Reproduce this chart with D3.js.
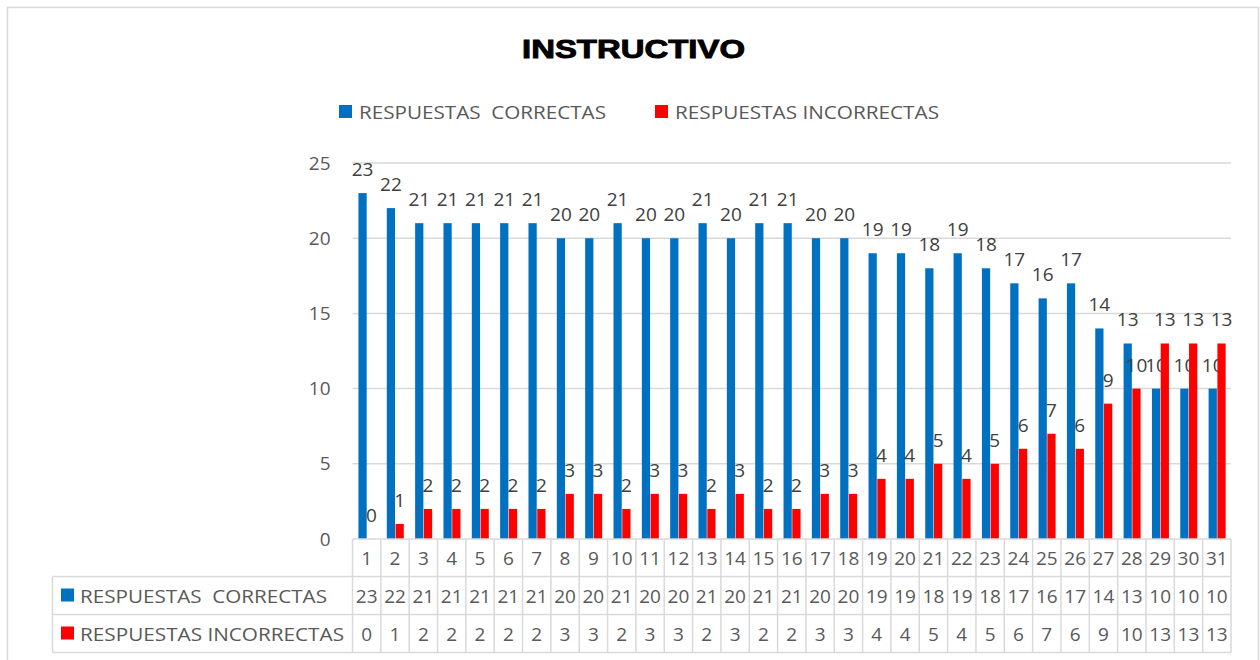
<!DOCTYPE html>
<html>
<head>
<meta charset="utf-8">
<script src="https://cdn.jsdelivr.net/npm/d3@7"></script>
<style>
body { margin: 0; background: #fff; }
text { font-family: "Open Sans", "Noto Sans", sans-serif; white-space: pre; }
</style>
</head>
<body>
<script>
var w = 1260, h = 660;

var categorias = d3.range(1, 32).map(String);
var correctas = [23,22,21,21,21,21,21,20,20,21,20,20,21,20,21,21,20,20,19,19,18,19,18,17,16,17,14,13,10,10,10];
var incorrectas = [0,1,2,2,2,2,2,3,3,2,3,3,2,3,2,2,3,3,4,4,5,4,5,6,7,6,9,10,13,13,13];
var series = ["RESPUESTAS  CORRECTAS", "RESPUESTAS INCORRECTAS"];
var colores = ["#0070C0", "#FF0000"];
var yTicks = [0, 5, 10, 15, 20, 25];

var svg = d3.select("body").append("svg")
    .attr("width", w)
    .attr("height", h);

// cadre
svg.append("rect")
    .attr("x", 7.5).attr("y", 7.5)
    .attr("width", 1251).attr("height", 670)
    .attr("fill", "#fff").attr("stroke", "#D9D9D9").attr("stroke-width", 1.5);

var left = 352.5, right = 1231, plotTop = 163, bottom = 539;

var x = d3.scaleBand().domain(categorias).range([left, right]);
var xs = d3.scaleBand().domain([0, 1])
    .range([x.bandwidth() * 0.21, x.bandwidth() * 0.81])
    .paddingInner(0.06);
var y = d3.scaleLinear().domain([0, 25]).range([bottom, plotTop]);

// titre
svg.append("text")
    .attr("x", 522).attr("y", 57.5)
    .attr("font-size", 25.5).attr("font-weight", "bold")
    .attr("fill", "#000").attr("stroke", "#000").attr("stroke-width", 0.9)
    .attr("textLength", 223).attr("lengthAdjust", "spacingAndGlyphs")
    .style("font-family", "'Liberation Sans', Arial, sans-serif")
    .text("INSTRUCTIVO");

// légende
var legX = [339, 655];
var legLen = [247, 264];
series.forEach(function(s, i) {
    svg.append("rect")
        .attr("x", legX[i]).attr("y", 105)
        .attr("width", 13).attr("height", 13)
        .attr("fill", colores[i]);
    svg.append("text")
        .attr("x", legX[i] + 20).attr("y", 118.5)
        .attr("font-size", 19).attr("fill", "#595959")
        .attr("textLength", legLen[i]).attr("lengthAdjust", "spacingAndGlyphs")
        .text(s);
});

// grille
svg.append("g").selectAll("line")
    .data(yTicks.slice(1))
    .join("line")
    .attr("x1", left).attr("x2", right)
    .attr("y1", function(d) { return y(d); })
    .attr("y2", function(d) { return y(d); })
    .attr("stroke", "#D9D9D9").attr("stroke-width", 1.5);

// axe y
var yAxis = svg.append("g")
    .attr("transform", "translate(" + (left - 22) + ",0)")
    .call(d3.axisLeft(y).tickValues(yTicks).tickSize(0).tickPadding(0));
yAxis.select(".domain").remove();
yAxis.selectAll("text")
    .attr("font-size", 19).attr("fill", "#595959")
    .style("font-family", "'Open Sans', sans-serif");

// barres
var valeurs = [correctas, incorrectas];
valeurs.forEach(function(vals, s) {
    svg.append("g").selectAll("rect")
        .data(vals)
        .join("rect")
        .attr("x", function(d, i) { return x(categorias[i]) + xs(s); })
        .attr("y", function(d) { return y(d); })
        .attr("width", xs.bandwidth())
        .attr("height", function(d) { return y(0) - y(d); })
        .attr("fill", colores[s]);
    svg.append("g").selectAll("text")
        .data(vals)
        .join("text")
        .attr("x", function(d, i) { return x(categorias[i]) + xs(s) + xs.bandwidth() / 2; })
        .attr("y", function(d) { return y(d) - 17; })
        .attr("text-anchor", "middle")
        .attr("font-size", 19).attr("fill", "#404040")
        .text(function(d) { return d; });
});

// table de données
var rowY = [bottom, 576.5, 614.5, 652.5];
var tableLeft = 52.5;
var grid = svg.append("g").attr("stroke", "#D9D9D9").attr("stroke-width", 1.5);
grid.append("line").attr("x1", left).attr("x2", right).attr("y1", bottom).attr("y2", bottom);
[1, 2, 3].forEach(function(r) {
    grid.append("line").attr("x1", tableLeft).attr("x2", right)
        .attr("y1", rowY[r]).attr("y2", rowY[r]);
});
grid.append("line").attr("x1", tableLeft).attr("x2", tableLeft)
    .attr("y1", rowY[1]).attr("y2", rowY[3]);
grid.selectAll("line.v")
    .data(categorias.concat(["fin"]))
    .join("line")
    .attr("class", "v")
    .attr("x1", function(d) { return d === "fin" ? right : x(d); })
    .attr("x2", function(d) { return d === "fin" ? right : x(d); })
    .attr("y1", bottom).attr("y2", rowY[3]);

var filas = [categorias, correctas, incorrectas];
filas.forEach(function(vals, r) {
    svg.append("g").selectAll("text")
        .data(vals)
        .join("text")
        .attr("x", function(d, i) { return x(categorias[i]) + x.bandwidth() / 2; })
        .attr("y", (rowY[r] + rowY[r + 1]) / 2 + 7)
        .attr("text-anchor", "middle")
        .attr("font-size", 19).attr("fill", "#595959")
        .text(function(d) { return d; });
});

series.forEach(function(s, i) {
    var cy = (rowY[i + 1] + rowY[i + 2]) / 2;
    svg.append("rect")
        .attr("x", 61).attr("y", cy - 7)
        .attr("width", 13).attr("height", 13)
        .attr("fill", colores[i]);
    svg.append("text")
        .attr("x", 80).attr("y", cy + 7)
        .attr("font-size", 19).attr("fill", "#595959")
        .attr("textLength", legLen[i]).attr("lengthAdjust", "spacingAndGlyphs")
        .text(s);
});
</script>
</body>
</html>
